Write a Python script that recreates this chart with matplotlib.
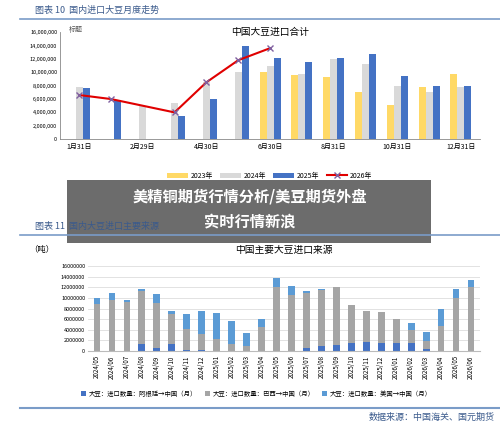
import numpy as np
import matplotlib
matplotlib.use("Agg")
import matplotlib.pyplot as plt
from matplotlib.patches import Rectangle
from matplotlib.lines import Line2D
from matplotlib.ticker import FuncFormatter

plt.rcParams['font.family'] = ['Noto Sans CJK SC', 'DejaVu Sans']

# ---- top chart data (13 date slots, millions of tonnes) ----
slot_labels = ["1月31日", "", "2月29日", "", "4月30日", "", "6月30日", "", "8月31日", "", "10月31日", "", "12月31日"]
y2023 = [np.nan]*6 + [10.1, 9.6, 9.3, 7.0, 5.1, 7.8, 9.7]
y2024 = [7.8, np.nan, 5.0, 5.4, 8.5, 10.1, 11.0, 9.8, 12.0, 11.3, 8.0, 7.0, 7.8]
y2025 = [7.7, 5.9, np.nan, 3.4, 6.0, 13.9, 12.2, 11.6, 12.2, 12.8, 9.4, 8.0, 7.9]
y2026_x = [0, 1, 3, 4, 5, 6]
y2026 = [6.6, 6.0, 4.0, 8.5, 11.8, 13.6]

# ---- bottom chart data (millions of tonnes) ----
months = ["2024/05","2024/06","2024/07","2024/08","2024/09","2024/10","2024/11","2024/12",
          "2025/01","2025/02","2025/03","2025/04","2025/05","2025/06","2025/07","2025/08",
          "2025/09","2025/10","2025/11","2025/12","2026/01","2026/02","2026/03","2026/04",
          "2026/05","2026/06"]
argentina = [0, 0, 0, 1.3, 0.6, 1.3, 0.2, 0.2, 0, 0, 0, 0, 0, 0, 0.5, 1.0, 1.1, 1.5, 1.7, 1.6, 1.6, 1.6, 0.3, 0, 0, 0]
gray_top = [8.8, 9.6, 9.2, 11.4, 9.0, 6.9, 4.1, 3.2, 2.3, 1.4, 1.0, 4.6, 12.0, 10.6, 11.0, 11.5, 12.0, 8.6, 7.6, 7.3, 6.1, 3.9, 1.9, 4.7, 9.9, 12.0]
totals = [10.0, 11.0, 9.6, 11.7, 10.7, 7.5, 7.0, 7.5, 7.2, 5.6, 3.4, 6.0, 13.7, 12.2, 11.4, 11.7, 12.1, 8.6, 7.6, 7.3, 6.1, 5.3, 3.6, 8.0, 11.6, 13.4]
brazil = [g - a for g, a in zip(gray_top, argentina)]
usa = [t - g for t, g in zip(totals, gray_top)]

fig = plt.figure(figsize=(5, 4.23), dpi=100)
fig.patch.set_facecolor('white')
tc = '#3a5a8c'

# headers
fig.text(0.07, 0.975, "图表 10  国内进口大豆月度走势", fontsize=6.5, color=tc, va='center')
fig.add_artist(Line2D([0.04, 1.0], [0.955, 0.955], color='#7a9cc8', lw=1.2))
fig.text(0.07, 0.465, "图表 11  国内大豆进口主要来源", fontsize=6.5, color=tc, va='center')
fig.add_artist(Line2D([0.04, 1.0], [0.445, 0.445], color='#7a9cc8', lw=1.2))
fig.add_artist(Line2D([0.04, 1.0], [0.035, 0.035], color='#7a9cc8', lw=1.5))
fig.text(0.99, 0.013, "数据来源：中国海关、国元期货", fontsize=6.5, color=tc, ha='right', va='center')

# ---- top axes ----
ax = fig.add_axes([0.12, 0.671, 0.84, 0.253])
x = np.arange(len(slot_labels))
w = 0.22
h1 = ax.bar(x - w, y2023, w, color='#FFD966', label='2023年')
h2 = ax.bar(x, y2024, w, color='#D9D9D9', label='2024年')
h3 = ax.bar(x + w, y2025, w, color='#4472C4', label='2025年')
h4, = ax.plot(y2026_x, y2026, color='#E00000', lw=1.5, marker='x', ms=5, mec='#8060a0', label='2026年')
ax.set_ylim(0, 16)
ax.set_xlim(-0.6, len(x) - 0.4)
ax.set_yticks(np.arange(0, 17, 2))
ax.yaxis.set_major_formatter(FuncFormatter(lambda v, p: "0" if v == 0 else f"{int(v*1e6):,}"))
ax.set_xticks(x)
ax.set_xticklabels(slot_labels)
ax.tick_params(axis='y', labelsize=4, length=0, pad=2)
ax.tick_params(axis='x', labelsize=5, length=0, pad=3)
for s in ['top', 'right']:
    ax.spines[s].set_visible(False)
for s in ['left', 'bottom']:
    ax.spines[s].set_color('#888888')
    ax.spines[s].set_linewidth(0.6)
ax.set_title("中国大豆进口合计", fontsize=7, y=0.9)
ax.text(0.02, 1.0, "标题", transform=ax.transAxes, fontsize=5, color='#555555')
ax.legend([h1, h2, h3, h4], ['2023年', '2024年', '2025年', '2026年'], loc='center',
          bbox_to_anchor=(0.5, -0.34), ncol=4, fontsize=5, frameon=False,
          handlelength=3, columnspacing=1, handletextpad=0.4)

# ---- bottom axes ----
ax2 = fig.add_axes([0.176, 0.170, 0.784, 0.201])
xb = np.arange(len(months))
bw = 0.45
ax2.bar(xb, argentina, bw, color='#4472C4', label='大豆：进口数量：阿根廷→中国（月）')
ax2.bar(xb, brazil, bw, bottom=argentina, color='#A5A5A5', label='大豆：进口数量：巴西→中国（月）')
ax2.bar(xb, usa, bw, bottom=gray_top, color='#5B9BD5', label='大豆：进口数量：美国→中国（月）')
ax2.set_ylim(0, 16)
ax2.set_xlim(-0.6, len(xb) - 0.4)
ax2.set_yticks(np.arange(0, 17, 2))
ax2.yaxis.set_major_formatter(FuncFormatter(lambda v, p: f"{int(v*1e6)}"))
ax2.set_xticks(xb)
ax2.set_xticklabels(months, rotation=90)
ax2.tick_params(axis='y', labelsize=4, length=0, pad=2)
ax2.tick_params(axis='x', labelsize=4.5, length=0, pad=3)
ax2.grid(axis='y', color='#dddddd', lw=0.6)
ax2.set_axisbelow(True)
for s in ['top', 'right', 'left']:
    ax2.spines[s].set_visible(False)
ax2.spines['bottom'].set_color('#bbbbbb')
ax2.text(0.5, 1.19, "中国主要大豆进口来源", transform=ax2.transAxes, fontsize=7, ha='center', va='center')
ax2.text(-0.15, 1.19, "（吨）", transform=ax2.transAxes, fontsize=6, va='center')
ax2.legend(loc='center', bbox_to_anchor=(0.43, -0.5), ncol=3, fontsize=4.6, frameon=False,
           handlelength=0.8, columnspacing=1.2, handletextpad=0.4)

# ---- overlay banner ----
fig.add_artist(Rectangle((0.134, 0.426), 0.728, 0.149, transform=fig.transFigure,
                         facecolor='#333333', alpha=0.72, edgecolor='none'))
fig.text(0.5, 0.535, "美精铜期货行情分析/美豆期货外盘", fontsize=11, color='white', weight='bold', ha='center', va='center')
fig.text(0.5, 0.475, "实时行情新浪", fontsize=11, color='white', weight='bold', ha='center', va='center')

fig.savefig("out.png", dpi=100)
